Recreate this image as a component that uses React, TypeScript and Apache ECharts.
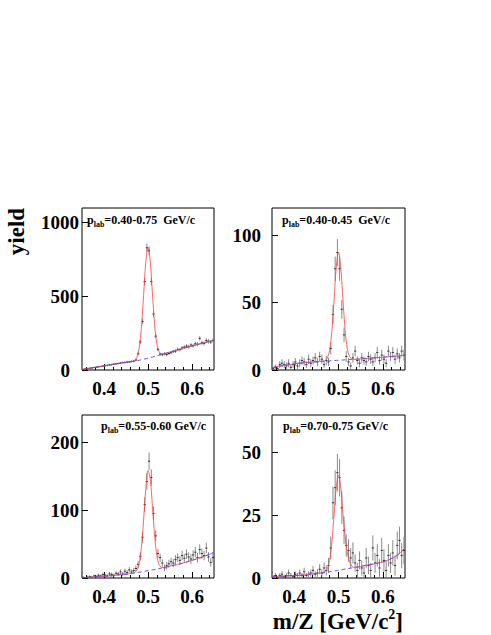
import React, { useEffect, useRef } from 'react';
import * as echarts from 'echarts';

const FONT = '"Liberation Serif", "Times New Roman", serif';

// histogram bin centres (m/Z, GeV/c^2)
const binCenters = [
  0.3525, 0.3575, 0.3625, 0.3675, 0.3725, 0.3775, 0.3825, 0.3875, 0.3925, 0.3975,
  0.4025, 0.4075, 0.4125, 0.4175, 0.4225, 0.4275, 0.4325, 0.4375, 0.4425, 0.4475,
  0.4525, 0.4575, 0.4625, 0.4675, 0.4725, 0.4775, 0.4825, 0.4875, 0.4925, 0.4975,
  0.5025, 0.5075, 0.5125, 0.5175, 0.5225, 0.5275, 0.5325, 0.5375, 0.5425, 0.5475,
  0.5525, 0.5575, 0.5625, 0.5675, 0.5725, 0.5775, 0.5825, 0.5875, 0.5925, 0.5975,
  0.6025, 0.6075, 0.6125, 0.6175, 0.6225, 0.6275, 0.6325, 0.6375, 0.6425, 0.6475,
];

// x positions where the fit curves were read
const fitX = [
  0.35, 0.36, 0.37, 0.38, 0.39, 0.4, 0.41, 0.42, 0.43, 0.44, 0.45, 0.46,
  0.465, 0.47, 0.475, 0.48, 0.485, 0.49, 0.495, 0.5, 0.505, 0.51, 0.515, 0.52, 0.525, 0.53, 0.535,
  0.54, 0.55, 0.56, 0.57, 0.58, 0.59, 0.6, 0.61, 0.62, 0.63, 0.64, 0.65,
];
const bgX = [
  0.35, 0.36, 0.37, 0.38, 0.39, 0.4, 0.41, 0.42, 0.43, 0.44, 0.45, 0.46, 0.47, 0.48, 0.49, 0.5,
  0.51, 0.52, 0.53, 0.54, 0.55, 0.56, 0.57, 0.58, 0.59, 0.6, 0.61, 0.62, 0.63, 0.64, 0.65,
];

const xMajorTicks = [0.4, 0.5, 0.6];
const xMinorTicks = [0.36, 0.38, 0.42, 0.44, 0.46, 0.48, 0.52, 0.54, 0.56, 0.58, 0.62, 0.64];

// ---- panel 1 : p_lab = 0.40-0.75 GeV/c
const yield1 = [
  4, 7, 9, 12, 14, 17, 19, 22, 24, 27, 30, 31, 35, 37, 40, 42, 44, 47, 50, 51,
  54, 55, 58, 60, 68, 110, 190, 330, 600, 830, 810, 600, 380, 230, 140, 108, 104, 110, 105, 112,
  118, 125, 128, 140, 138, 150, 155, 162, 158, 170, 165, 178, 175, 215, 185, 180, 200, 195, 190, 200,
];
const err1 = [
  3, 3, 4, 4, 4, 5, 5, 5, 5, 6, 6, 6, 6, 7, 7, 7, 7, 7, 8, 8,
  8, 8, 8, 8, 9, 11, 14, 18, 25, 29, 28, 25, 20, 15, 12, 11, 11, 11, 11, 11,
  11, 12, 12, 12, 12, 13, 13, 13, 13, 13, 13, 14, 14, 15, 14, 14, 15, 15, 14, 15,
];
const fit1 = [
  3, 8, 13, 18, 23, 28, 33, 38, 43, 48, 52, 56,
  58, 65, 87, 148, 286, 507, 734, 835, 742, 522, 309, 178, 124, 110, 110,
  113, 122, 130, 138, 147, 155, 163, 171, 179, 187, 195, 203,
];
const bg1 = [
  3, 8, 13, 18, 23, 28, 33, 38, 43, 48, 52, 56, 60, 66, 73, 80,
  88, 96, 105, 113, 122, 130, 138, 147, 155, 163, 171, 179, 187, 195, 203,
];
const yTicks1 = [0, 500, 1000];

// ---- panel 2 : p_lab = 0.40-0.45 GeV/c
const yield2 = [
  1, 2, 1, 4, 5, 4, 3, 5, 2, 4, 6, 3, 5, 7, 6, 4, 8, 5, 7, 9,
  6, 10, 8, 4, 7, 6, 16, 41, 75, 87, 75, 45, 26, 10, 6, 3, 9, 14, 7, 5,
  9, 7, 6, 10, 8, 6, 9, 13, 7, 11, 8, 5, 14, 10, 13, 8, 12, 9, 14, 11,
];
const err2 = [
  1.5, 2, 1.5, 2.5, 3, 2.5, 2.5, 3, 2, 2.5, 3, 2.5, 3, 3, 3, 2.5, 3.5, 3, 3, 3.5,
  3, 3.5, 3.5, 2.5, 3.5, 3, 4.5, 7, 9, 10, 9, 7, 5.5, 4, 3, 2.5, 3.5, 4, 3, 3,
  3.5, 3, 3, 3.5, 3.5, 3, 3.5, 4, 3, 4, 3.5, 3, 4, 3.5, 4, 3.5, 4, 3.5, 4, 4,
];
const fit2 = [
  1.5, 2.5, 3, 3.5, 4, 4.5, 5, 5.3, 5.6, 5.9, 6.2, 6.4,
  6.5, 7, 8.9, 14.7, 28.7, 51.9, 76.3, 87.2, 76.5, 52.3, 29.3, 15.5, 9.9, 8.2, 7.9,
  8, 8.2, 8.5, 8.7, 9, 9.2, 9.5, 9.7, 10, 10.2, 10.5, 10.8,
];
const bg2 = [
  1.5, 2.5, 3, 3.5, 4, 4.5, 5, 5.3, 5.6, 5.9, 6.2, 6.4, 6.6, 6.8, 7, 7.2,
  7.4, 7.6, 7.8, 8, 8.2, 8.5, 8.7, 9, 9.2, 9.5, 9.7, 10, 10.2, 10.5, 10.8,
];
const yTicks2 = [0, 50, 100];

// ---- panel 3 : p_lab = 0.55-0.60 GeV/c
const yield3 = [
  1, 0, 1, 2, 1, 3, 2, 4, 3, 5, 4, 3, 6, 5, 4, 7, 6, 9, 6, 10,
  8, 12, 9, 11, 14, 20, 32, 60, 108, 142, 172, 148, 95, 62, 36, 30, 22, 15, 18, 21,
  24, 22, 27, 30, 26, 33, 29, 35, 31, 28, 34, 38, 30, 42, 36, 33, 44, 31, 23, 30,
];
const err3 = [
  1.5, 1, 1.5, 2, 1.5, 2, 2, 2.5, 2, 3, 2.5, 2.5, 3, 3, 2.5, 3, 3, 3.5, 3, 4,
  3.5, 4, 3.5, 4, 4.5, 5, 6, 8, 11, 12, 13, 12, 10, 8, 6.5, 6, 5.5, 5, 5.5, 6,
  6, 6, 6.5, 6.5, 6.5, 7, 6.5, 7, 7, 7, 7, 7.5, 7, 7.5, 7.5, 7, 8, 7, 6.5, 7,
];
const fit3 = [
  0, 0.5, 1, 1.5, 2, 2.5, 3, 3.5, 4.5, 5, 5.5, 6.5,
  7.1, 8.2, 11.5, 21.4, 44.8, 85.2, 131.5, 158.2, 147, 106.5, 62.4, 33, 19.8, 15.9, 15.5,
  16, 17.5, 19, 20.5, 22, 24, 26, 28, 30, 32.5, 35, 38,
];
const bg3 = [
  0, 0.5, 1, 1.5, 2, 2.5, 3, 3.5, 4.5, 5, 5.5, 6.5, 7.5, 8.5, 9.5, 11,
  12, 13, 14.5, 16, 17.5, 19, 20.5, 22, 24, 26, 28, 30, 32.5, 35, 38,
];
const yTicks3 = [0, 100, 200];

// ---- panel 4 : p_lab = 0.70-0.75 GeV/c
const yield4 = [
  0.5, 1, 0, 1, 1.5, 0.5, 1, 2, 1, 0.5, 1.5, 1, 2, 1, 2.5, 1, 1.5, 2, 3, 1.5,
  2, 3.5, 2, 4, 3, 5, 12, 30, 36, 42, 40, 28, 19, 13, 11, 8, 10, 6, 3, 7,
  4, 2, 8, 5, 3, 12, 6, 9, 4, 11, 7, 3, 9, 6, 10, 5, 13, 15, 9, 11,
];
const err4 = [
  0.8, 1, 0.6, 1, 1.2, 0.8, 1, 1.4, 1, 0.8, 1.2, 1, 1.4, 1, 1.6, 1, 1.2, 1.4, 1.8, 1.2,
  1.5, 2, 1.5, 2.2, 2, 3, 4.5, 6.5, 7, 7.5, 7.5, 6.5, 5.5, 4.5, 4.5, 4, 4.2, 3.5, 3, 3.6,
  3, 2.5, 4, 3.5, 3, 5, 4, 4.5, 3.5, 5, 4.5, 3.5, 4.5, 4, 5, 4, 5.5, 5.5, 5, 5.5,
];
const fit4 = [
  0.5, 0.6, 0.7, 0.8, 0.9, 1, 1.1, 1.2, 1.4, 1.6, 1.8, 2,
  2.2, 2.5, 3.8, 7, 14.2, 25.1, 36.3, 41.1, 36.6, 25.7, 16.5, 10, 6.5, 4.8, 4.2,
  4.3, 4.6, 5, 5.3, 5.6, 6, 6.4, 7, 7.8, 8.8, 10.2, 12,
];
const bg4 = [
  0.5, 0.6, 0.7, 0.8, 0.9, 1, 1.1, 1.2, 1.4, 1.6, 1.8, 2, 2.2, 2.5, 2.8, 3.1,
  3.4, 3.7, 4, 4.3, 4.6, 5, 5.3, 5.6, 6, 6.4, 7, 7.8, 8.8, 10.2, 12,
];
const yTicks4 = [0, 25, 50];

const panelLabels = ['=0.40-0.75  GeV/c', '=0.40-0.45  GeV/c', '=0.55-0.60 GeV/c', '=0.70-0.75 GeV/c'];

const panels = [
  { grid: { left: 82, top: 208, width: 132, height: 162 }, yMax: 1100, yInt: 500, ticks: yTicks1,
    data: yield1, err: err1, fit: fit1, bg: bg1, label: panelLabels[0], lx: 87, ly: 220, leftCol: true },
  { grid: { left: 272, top: 208, width: 133, height: 162 }, yMax: 120, yInt: 50, ticks: yTicks2,
    data: yield2, err: err2, fit: fit2, bg: bg2, label: panelLabels[1], lx: 282, ly: 220, leftCol: false },
  { grid: { left: 82, top: 415, width: 132, height: 163 }, yMax: 240, yInt: 100, ticks: yTicks3,
    data: yield3, err: err3, fit: fit3, bg: bg3, label: panelLabels[2], lx: 101, ly: 426, leftCol: true },
  { grid: { left: 272, top: 415, width: 133, height: 163 }, yMax: 65, yInt: 25, ticks: yTicks4,
    data: yield4, err: err4, fit: fit4, bg: bg4, label: panelLabels[3], lx: 283, ly: 426, leftCol: false },
];

const labelStyle = { fontFamily: FONT, fontWeight: 'bold' as const, fontSize: 19, color: '#000' };

function buildOption() {
  const grids: any[] = [];
  const xAxes: any[] = [];
  const yAxes: any[] = [];
  const series: any[] = [];
  const graphics: any[] = [];

  panels.forEach((p, i) => {
    grids.push({
      ...p.grid,
      show: true,
      borderColor: '#000',
      borderWidth: 1,
      backgroundColor: 'transparent',
      containLabel: false,
      outerBoundsMode: 'none',
    });
    xAxes.push({
      type: 'value', gridIndex: i, min: 0.35, max: 0.65, position: 'bottom',
      axisLine: { show: false },
      splitLine: { show: false },
      axisTick: { show: true, inside: true, length: 6, customValues: xMajorTicks, lineStyle: { color: '#000', width: 1 } },
      axisLabel: {
        ...labelStyle, margin: 9, customValues: xMajorTicks,
        formatter: (v: number) => v.toFixed(1),
      },
    });
    xAxes.push({
      type: 'value', gridIndex: i, min: 0.35, max: 0.65, position: 'bottom',
      axisLine: { show: false },
      splitLine: { show: false },
      axisLabel: { show: false },
      axisTick: { show: true, inside: true, length: 3, customValues: xMinorTicks, lineStyle: { color: '#000', width: 1 } },
    });
    yAxes.push({
      type: 'value', gridIndex: i, min: 0, max: p.yMax, interval: p.yInt,
      axisLine: { show: false },
      splitLine: { show: false },
      axisTick: { show: true, inside: true, length: 6, customValues: p.ticks, lineStyle: { color: '#000', width: 1 } },
      axisLabel: {
        ...labelStyle,
        margin: p.leftCol ? 3 : 11,
        customValues: p.ticks,
        formatter: (v: number) => (v === 0 && p.leftCol ? '{z|0}' : String(v)),
        rich: { z: { ...labelStyle, padding: [0, 9, 0, 0] } },
      },
    });

    series.push({
      type: 'custom',
      xAxisIndex: i * 2,
      yAxisIndex: i,
      clip: true,
      z: 2,
      encode: { x: 0, y: 1 },
      data: binCenters.map((x, j) => [x, p.data[j], p.err[j]]),
      renderItem: (params: any, api: any) => {
        const x = api.value(0);
        const y = api.value(1);
        const e = api.value(2);
        const top = api.coord([x, y + e]);
        const bot = api.coord([x, y - e]);
        const l = api.coord([x - 0.0025, y]);
        const r = api.coord([x + 0.0025, y]);
        return {
          type: 'group',
          children: [
            { type: 'line', shape: { x1: top[0], y1: top[1], x2: bot[0], y2: bot[1] }, style: { stroke: '#8a8a8a', lineWidth: 1 } },
            { type: 'line', shape: { x1: l[0], y1: l[1], x2: r[0], y2: r[1] }, style: { stroke: '#333', lineWidth: 1 } },
          ],
        };
      },
    });
    series.push({
      type: 'line', xAxisIndex: i * 2, yAxisIndex: i, z: 3,
      data: fitX.map((x, j) => [x, p.fit[j]]),
      showSymbol: false, smooth: 0.3, clip: true,
      lineStyle: { color: '#ff4040', width: 1, opacity: 0.8 },
    });
    series.push({
      type: 'line', xAxisIndex: i * 2, yAxisIndex: i, z: 4,
      data: bgX.map((x, j) => [x, p.bg[j]]),
      showSymbol: false, smooth: 0.3, clip: true,
      lineStyle: { color: '#5a5aff', width: 1, type: [4, 3] },
    });

    graphics.push({
      type: 'text', x: p.lx, y: p.ly, z: 10,
      style: {
        text: '{p|p}{s|lab}{p|' + p.label + '}',
        fill: '#000',
        verticalAlign: 'middle',
        rich: {
          p: { fontFamily: FONT, fontWeight: 'bold', fontSize: 12, lineHeight: 16, fill: '#000', color: '#000' },
          s: { fontFamily: FONT, fontWeight: 'bold', fontSize: 8, lineHeight: 8, verticalAlign: 'bottom', fill: '#000', color: '#000' },
        },
      },
    });
  });

  graphics.push({
    type: 'text', x: 16.5, y: 231.5, rotation: Math.PI / 2, z: 10,
    style: { text: 'yield', fontFamily: FONT, fontWeight: 'bold', fontSize: 23, fill: '#000', align: 'center', verticalAlign: 'middle' },
  });
  graphics.push({
    type: 'text', x: 403, y: 621, z: 10,
    style: {
      text: '{a|m/Z [GeV/c}{b|2}{a|]}',
      fill: '#000', align: 'right', verticalAlign: 'middle',
      rich: {
        a: { fontFamily: FONT, fontWeight: 'bold', fontSize: 23, lineHeight: 28, fill: '#000', color: '#000' },
        b: { fontFamily: FONT, fontWeight: 'bold', fontSize: 14, lineHeight: 14, verticalAlign: 'top', fill: '#000', color: '#000' },
      },
    },
  });

  return {
    animation: false,
    backgroundColor: '#fff',
    grid: grids,
    xAxis: xAxes,
    yAxis: yAxes,
    series,
    graphic: graphics,
  };
}

export default function App() {
  const ref = useRef<HTMLDivElement>(null);
  useEffect(() => {
    if (!ref.current) return;
    const chart = echarts.init(ref.current, null, { renderer: 'svg' });
    chart.setOption(buildOption() as any);
    return () => chart.dispose();
  }, []);
  return (
    <div
      ref={ref}
      style={{ position: 'fixed', left: 0, top: 0, width: 491, height: 635, background: '#fff' }}
    />
  );
}
